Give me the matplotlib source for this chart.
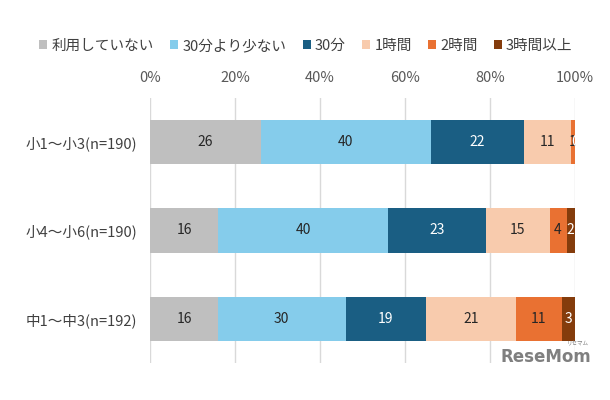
import matplotlib
matplotlib.use("Agg")
import matplotlib.pyplot as plt
import numpy as np

plt.rcParams['font.family'] = ['Noto Sans CJK JP', 'DejaVu Sans']

categories = ["小1〜小3(n=190)", "小4〜小6(n=190)", "中1〜中3(n=192)"]
series_names = ["利用していない", "30分より少ない", "30分", "1時間", "2時間", "3時間以上"]
values = {
    "利用していない": [26, 16, 16],
    "30分より少ない": [40, 40, 30],
    "30分": [22, 23, 19],
    "1時間": [11, 15, 21],
    "2時間": [1, 4, 11],
    "3時間以上": [0, 2, 3],
}
colors = ["#BFBFBF", "#85CCEB", "#1A5E83", "#F8CBAD", "#E97132", "#843C0C"]
label_colors = ["#262626", "#262626", "white", "#262626", "#262626", "white"]
xticks = [0, 20, 40, 60, 80, 100]
xticklabels = ["0%", "20%", "40%", "60%", "80%", "100%"]

fig = plt.figure(figsize=(6.1, 4.0), dpi=100)
ax = fig.add_axes([150/610, 1-363/400, 425/610, 265/400])

y = np.arange(len(categories))
left = np.zeros(len(categories))
handles = []
for name, c, lc in zip(series_names, colors, label_colors):
    v = np.array(values[name], dtype=float)
    h = ax.barh(y, v, left=left, height=0.5, color=c, label=name, zorder=3)
    handles.append(h)
    for yi, (l, w) in enumerate(zip(left, v)):
        ax.text(l + w/2, yi, f"{int(round(w))}", ha="center", va="center",
                color=lc, fontsize=10, zorder=4)
    left += v

ax.set_xlim(0, 100)
ax.set_ylim(2.5, -0.5)
ax.set_xticks(xticks)
ax.set_xticklabels(xticklabels, color="#595959", fontsize=10.5)
ax.xaxis.tick_top()
ax.tick_params(axis="x", length=0, pad=9)
ax.set_yticks(y)
ax.set_yticklabels(categories, color="#404040", fontsize=10.5)
ax.tick_params(axis="y", length=0, pad=9)
ax.grid(axis="x", color="#D9D9D9", linewidth=1, zorder=0)
for s in ax.spines.values():
    s.set_visible(False)

fig.legend(handles=handles, labels=series_names, loc="center", bbox_to_anchor=(306/610, 1-46/400),
           ncol=6, frameon=False, fontsize=10.5, handlelength=0.55, handleheight=0.55,
           handletextpad=0.3, columnspacing=1.1, labelcolor="#404040")

fig.text(591/610, 1-357/400, "ReseMom", ha="right", va="center", fontsize=12,
         fontweight="bold", color="#7F7F7F", family=["DejaVu Sans"])
fig.text(589/610, 1-344/400, "リセマム", ha="right", va="center", fontsize=4,
         color="#7F7F7F")

fig.savefig("out.png", dpi=100)
